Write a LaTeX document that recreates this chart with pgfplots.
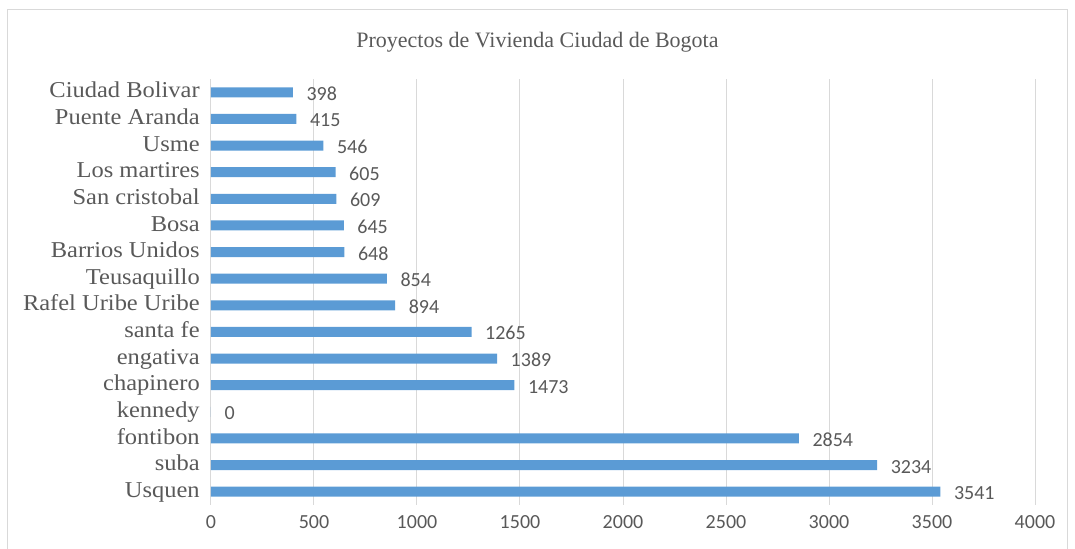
\documentclass[border=0pt]{standalone}
\usepackage{fontspec}
\setmainfont{Liberation Serif}
\newfontfamily\catfont[FakeStretch=1.08]{Liberation Serif}
\newfontfamily\calibri{Carlito}
\usepackage{pgfplots}
\pgfplotsset{compat=1.18}

\definecolor{barblue}{HTML}{5B9BD5}
\definecolor{txtgray}{HTML}{595959}
\definecolor{gridgray}{HTML}{D9D9D9}

\begin{document}
\begin{tikzpicture}
\begin{axis}[
    at={(0,0)}, anchor=south west,
    scale only axis,
    width=618pt, height=319.5pt,
    xbar,
    bar width=7.5pt,
    xmin=0, xmax=4000,
    ymin=-0.5, ymax=15.5,
    xtick={0,500,...,4000},
    ytick={0,...,15},
    yticklabels={Usquen, suba, fontibon, kennedy, chapinero, engativa, santa fe,
        Rafel Uribe Uribe, Teusaquillo, Barrios Unidos, Bosa, San cristobal,
        Los martires, Usme, Puente Aranda, Ciudad Bolivar},
    scaled ticks=false,
    /pgf/number format/.cd, 1000 sep={}, assume math mode=true, /pgfplots/.cd,
    axis line style={draw=none},
    major tick length=0pt,
    xmajorgrids,
    grid style={gridgray, line width=0.75pt},
    xticklabel style={font=\calibri\fontsize{15}{15}\selectfont, txtgray,
        anchor=center, yshift=-12.75pt},
    yticklabel style={font=\catfont\fontsize{17}{17}\selectfont, txtgray,
        anchor=base east, inner sep=0pt, xshift=-8.25pt, yshift=-4.2pt},
    nodes near coords,
    nodes near coords align={horizontal},
    nodes near coords style={font=\calibri\fontsize{15}{15}\selectfont, txtgray,
        anchor=base west, inner sep=0pt, xshift=10pt, yshift=-6pt},
]
\addplot[fill=barblue, draw=none] coordinates {
    (3541,0) (3234,1) (2854,2) (0,3) (1473,4) (1389,5) (1265,6) (894,7)
    (854,8) (648,9) (645,10) (609,11) (605,12) (546,13) (415,14) (398,15)
};
\end{axis}
\begin{scope}[x=0.75pt, y=0.75pt]
    \useasboundingbox (-211,-44) rectangle (864,505);
    \draw[gridgray, line width=0.75pt] (-203,-60) rectangle (856,495);
    \node[anchor=base, inner sep=0pt, txtgray, font=\fontsize{16.5}{16.5}\selectfont]
        at (326.5,457) {Proyectos de Vivienda Ciudad de Bogota};
\end{scope}
\end{tikzpicture}
\end{document}
